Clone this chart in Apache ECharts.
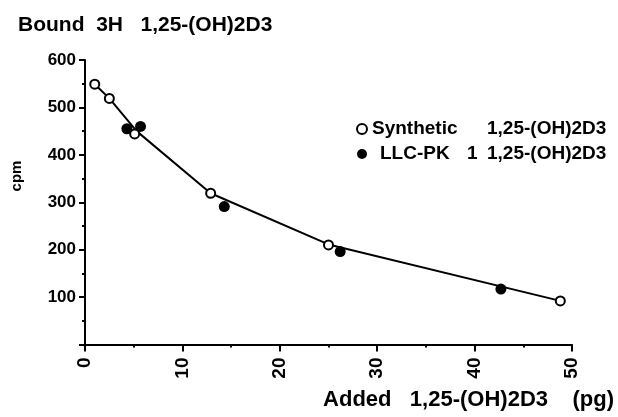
<!DOCTYPE html>
<html>
<head>
<meta charset="utf-8">
<script src="https://cdn.jsdelivr.net/npm/echarts@6/dist/echarts.min.js"></script>
<style>
html,body{margin:0;padding:0;background:#fff;}
#chart{width:618px;height:417px;}
</style>
</head>
<body>
<div id="chart"></div>
<script>
// Data
const synX = [1.0, 2.5, 5.1, 12.9, 25.0, 48.8];
const synY = [549, 519, 444, 319, 210, 92];
const llcX = [4.3, 5.7, 14.3, 26.2, 42.7];
const llcY = [455, 460, 291, 196, 117];
const fitX = [1.0, 2.5, 5.3, 12.9, 25.0, 48.8];
const fitY = [549, 519, 450, 319, 211, 92];
const xTicks = [0, 10, 20, 30, 40, 50];
const yTicks = [100, 200, 300, 400, 500, 600];

const synName = 'Synthetic 1,25-(OH)2D3';
const llcName = 'LLC-PK 1 1,25-(OH)2D3';

const FONT = '"Liberation Sans", Arial, sans-serif';
const chart = echarts.init(document.getElementById('chart'), null, {renderer: 'canvas'});

const zip = (xs, ys) => xs.map((x, i) => [x, ys[i]]);

chart.setOption({
  animation: false,
  backgroundColor: '#fff',
  title: {
    text: 'Bound  3H   1,25-(OH)2D3',
    left: 13, top: 10,
    textStyle: {fontFamily: FONT, fontWeight: 'bold', fontSize: 21, color: '#000'}
  },
  grid: {left: 85, right: 46, top: 60, bottom: 72.5, containLabel: false},
  xAxis: {
    type: 'value', min: 0, max: 50, interval: 10,
    axisLine: {show: true, onZero: false, lineStyle: {color: '#000', width: 2}},
    axisTick: {show: true, length: 7, lineStyle: {color: '#000', width: 2}},
    minorTick: {show: true, splitNumber: 2, length: 3, lineStyle: {color: '#000', width: 2}},
    splitLine: {show: false},
    axisLabel: {
      rotate: 90, margin: 13, color: '#000', fontFamily: FONT, fontWeight: 'bold', fontSize: 19,
      formatter: v => xTicks.includes(v) ? String(v) : ''
    }
  },
  yAxis: {
    type: 'value', min: 0, max: 600, interval: 100,
    axisLine: {show: true, lineStyle: {color: '#000', width: 2}},
    axisTick: {show: true, length: 6, lineStyle: {color: '#000', width: 2}},
    minorTick: {show: true, splitNumber: 2, length: 3, lineStyle: {color: '#000', width: 2}},
    splitLine: {show: false},
    axisLabel: {
      margin: 9, color: '#000', fontFamily: FONT, fontWeight: 'bold', fontSize: 17,
      formatter: v => yTicks.includes(v) ? String(v) : ''
    }
  },
  legend: {
    orient: 'vertical',
    left: 351, top: 114,
    itemWidth: 10, itemHeight: 10, itemGap: 5,
    data: [
      {name: synName, icon: 'circle', itemStyle: {color: '#fff', borderColor: '#000', borderWidth: 2}},
      {name: llcName, icon: 'circle', itemStyle: {color: '#000', borderWidth: 0}}
    ],
    formatter: name => name === synName
      ? '{a|Synthetic}{b|1,25-(OH)2D3}'
      : '{c|LLC-PK}{d|1}{b|1,25-(OH)2D3}',
    textStyle: {
      fontFamily: FONT, fontWeight: 'bold', fontSize: 19, color: '#000', lineHeight: 20,
      rich: {
        a: {width: 115, fontFamily: FONT, fontWeight: 'bold', fontSize: 19, color: '#000'},
        b: {fontFamily: FONT, fontWeight: 'bold', fontSize: 19, color: '#000'},
        c: {width: 87, padding: [0, 0, 0, 8], fontFamily: FONT, fontWeight: 'bold', fontSize: 19, color: '#000'},
        d: {width: 20, fontFamily: FONT, fontWeight: 'bold', fontSize: 19, color: '#000'}
      }
    }
  },
  graphic: [
    {
      type: 'text', x: 17, y: 176, rotation: Math.PI / 2,
      style: {text: 'cpm', fill: '#000', font: 'bold 15px ' + FONT, align: 'center', verticalAlign: 'middle'}
    },
    {
      type: 'text', x: 614, y: 400,
      style: {text: 'Added   1,25-(OH)2D3    (pg)', fill: '#000', font: 'bold 22px ' + FONT, align: 'right', verticalAlign: 'middle'}
    }
  ],
  series: [
    {
      name: 'fit', type: 'line', data: zip(fitX, fitY), symbol: 'none', smooth: false,
      lineStyle: {color: '#000', width: 2}, z: 1, silent: true
    },
    {
      name: llcName, type: 'scatter', data: zip(llcX, llcY), symbol: 'circle', symbolSize: 11,
      itemStyle: {color: '#000', opacity: 1}, z: 2
    },
    {
      name: synName, type: 'scatter', data: zip(synX, synY), symbol: 'circle', symbolSize: 9,
      itemStyle: {color: '#fff', borderColor: '#000', borderWidth: 2, opacity: 1}, z: 3
    }
  ]
});
</script>
</body>
</html>
